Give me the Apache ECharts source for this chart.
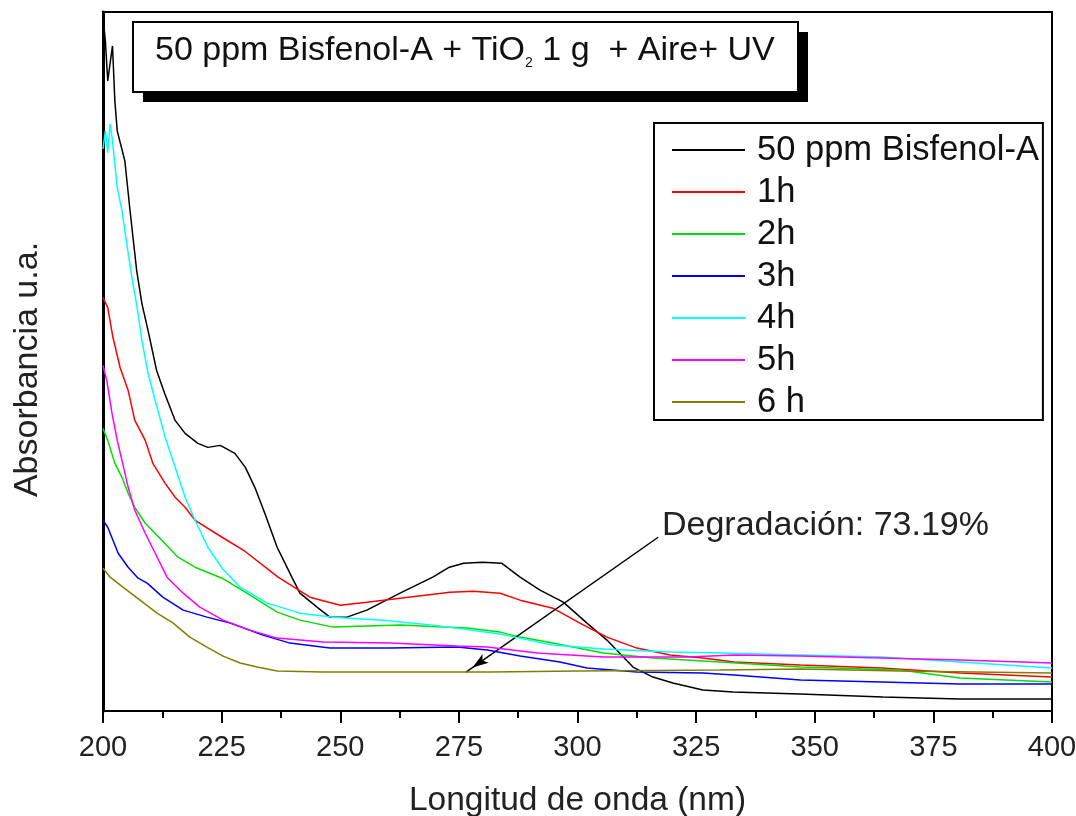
<!DOCTYPE html>
<html>
<head>
<meta charset="utf-8">
<script src="https://cdn.jsdelivr.net/npm/echarts@6/dist/echarts.min.js"></script>
<style>
  html, body { margin: 0; padding: 0; background: #fff; }
  #chart { width: 1076px; height: 816px; }
</style>
</head>
<body>
<div id="chart"></div>
<script>
// UV-Vis spectra of Bisphenol-A during TiO2 photocatalysis, [wavelength nm, absorbance a.u.]
const xTicks = [200, 225, 250, 275, 300, 325, 350, 375, 400];
const seriesNames = ['50 ppm Bisfenol-A', '1h', '2h', '3h', '4h', '5h', '6 h'];
const seriesColors = ['#000000', '#ff0000', '#00e000', '#0000ff', '#00ffff', '#ff00ff', '#808000'];

const bisfenolA = [
  [200, 3.48], [200.5, 3.355], [201, 3.155], [202, 3.33], [202.5, 3.055], [203, 2.905],
  [204.6, 2.755], [205.7, 2.505], [207.1, 2.205], [208.2, 2.04], [209.5, 1.905], [211.3, 1.705],
  [213, 1.59], [215.2, 1.455], [217.3, 1.39], [220, 1.34], [222.1, 1.32], [224.7, 1.33],
  [227.8, 1.29], [230, 1.22], [232, 1.12], [234.1, 0.99], [236.7, 0.82], [239.8, 0.67],
  [241.5, 0.59], [245.1, 0.52], [247.8, 0.47], [251.4, 0.47], [255.6, 0.505], [262.6, 0.59],
  [269.5, 0.67], [273, 0.72], [276, 0.74], [280, 0.745], [284, 0.74], [287.9, 0.67],
  [292.1, 0.605], [297, 0.545], [302, 0.44], [306.2, 0.355], [311.7, 0.22], [315.9, 0.17],
  [320.1, 0.14], [326.4, 0.105], [332.8, 0.095], [346.9, 0.085], [364.4, 0.07], [380.6, 0.06],
  [400, 0.06]
];
const h1 = [
  [200, 2.07], [201, 2.02], [202.1, 1.87], [203.6, 1.72], [205.3, 1.605], [206.7, 1.455],
  [208.9, 1.355], [210.5, 1.24], [213.1, 1.14], [215.2, 1.07], [217.3, 1.02], [219.4, 0.955],
  [225.1, 0.87], [229.9, 0.8], [236.9, 0.67], [243.6, 0.57], [250, 0.53], [255.6, 0.545],
  [262.6, 0.565], [273.1, 0.595], [278, 0.6], [283.7, 0.59], [287.9, 0.555], [294.8, 0.515],
  [300.5, 0.44], [306.2, 0.37], [312.5, 0.315], [319.5, 0.28], [326.4, 0.265], [333, 0.245],
  [347, 0.23], [364, 0.215], [380.6, 0.19], [400, 0.17]
];
const h2 = [
  [200, 1.415], [201, 1.355], [202.5, 1.24], [204, 1.17], [205.3, 1.09], [206.7, 1.02],
  [208.9, 0.94], [212.4, 0.855], [215.8, 0.77], [219.4, 0.72], [225.1, 0.665], [231, 0.58],
  [236.7, 0.495], [241.5, 0.455], [248.5, 0.42], [262.6, 0.43], [276.7, 0.415], [283.7, 0.395],
  [287.9, 0.37], [294.8, 0.34], [305.4, 0.29], [315.9, 0.265], [330, 0.245], [347, 0.22],
  [368, 0.205], [380.6, 0.165], [400, 0.145]
];
const h3 = [
  [200, 0.955], [201, 0.92], [203.2, 0.79], [205.3, 0.72], [207.4, 0.665], [209.3, 0.64],
  [212.6, 0.57], [216.9, 0.505], [221.9, 0.47], [226.8, 0.44], [233.7, 0.38], [239.4, 0.34],
  [247.8, 0.315], [260.5, 0.315], [274.6, 0.32], [281, 0.305], [287.9, 0.275], [296.3, 0.245],
  [302, 0.215], [312.5, 0.195], [326.4, 0.19], [333, 0.18], [347, 0.155], [364, 0.145],
  [380.6, 0.135], [400, 0.135]
];
const h4 = [
  [200, 2.815], [200.5, 2.905], [201, 2.795], [201.5, 2.94], [202, 2.855], [203, 2.62],
  [204, 2.505], [205, 2.34], [206.1, 2.17], [207.2, 2.02], [208.2, 1.855], [209.5, 1.69],
  [211, 1.555], [213.1, 1.37], [215.2, 1.22], [217.3, 1.07], [219.4, 0.955], [222.1, 0.82],
  [225.1, 0.715], [228.9, 0.62], [234.6, 0.54], [241.5, 0.49], [248.5, 0.47], [259, 0.455],
  [269.5, 0.43], [283.7, 0.385], [294.8, 0.33], [305.4, 0.31], [319.5, 0.295], [330, 0.29],
  [347, 0.28], [364, 0.27], [380.6, 0.245], [400, 0.215]
];
const h5 = [
  [200, 1.73], [200.8, 1.655], [201.9, 1.49], [203, 1.355], [204, 1.255], [205.3, 1.12],
  [206.7, 1.005], [208.9, 0.89], [211, 0.79], [213.5, 0.67], [216.9, 0.59], [220.4, 0.52],
  [225.3, 0.455], [231, 0.405], [236.7, 0.365], [246.4, 0.345], [260.5, 0.34], [274.6, 0.325],
  [281, 0.32], [291.5, 0.29], [305.4, 0.27], [323, 0.27], [333, 0.28], [347, 0.275],
  [364, 0.265], [380.6, 0.255], [400, 0.24]
];
const h6 = [
  [200, 0.715], [201.5, 0.67], [204.2, 0.62], [207.8, 0.555], [211.4, 0.49], [214.8, 0.44],
  [218.3, 0.37], [221.9, 0.32], [225.3, 0.275], [228.9, 0.24], [232.5, 0.22], [236.7, 0.2],
  [246.4, 0.195], [281.6, 0.195], [300, 0.2], [330, 0.205], [347, 0.21], [368, 0.2], [400, 0.19]
];
const seriesData = [bisfenolA, h1, h2, h3, h4, h5, h6];

// Annotation: arrow from the label down to the 6 h curve
const arrowStart = [317, 0.87];
const arrowEnd = [276.5, 0.195];
const annotationText = 'Degradación: 73.19%';

const FONT = "'Liberation Sans', Arial, sans-serif";

const chart = echarts.init(document.getElementById('chart'), null, { renderer: 'canvas' });

const series = seriesNames.map((name, i) => ({
  name: name,
  type: 'line',
  data: seriesData[i],
  symbol: 'none',
  smooth: false,
  lineStyle: { color: seriesColors[i], width: 1.5 },
  itemStyle: { color: seriesColors[i] },
  z: 2 + i
}));

const option = {
  animation: false,
  backgroundColor: '#fff',
  grid: {
    left: 103, right: 24, top: 12, bottom: 105,
    outerBoundsMode: 'none',
    containLabel: false,
    show: true, borderColor: '#000', borderWidth: 2, backgroundColor: 'transparent'
  },
  xAxis: {
    type: 'value',
    min: xTicks[0], max: xTicks[xTicks.length - 1], interval: 25,
    name: 'Longitud de onda (nm)',
    nameLocation: 'middle', nameGap: 73,
    nameTextStyle: { fontFamily: FONT, fontSize: 33.5, color: '#222' },
    axisLine: { show: true, lineStyle: { color: '#000', width: 2 } },
    axisTick: { show: true, inside: false, length: 12, lineStyle: { color: '#000', width: 2 } },
    minorTick: { show: true, splitNumber: 2, length: 7, lineStyle: { color: '#000', width: 2 } },
    axisLabel: { fontFamily: FONT, fontSize: 29, color: '#222', margin: 22 },
    splitLine: { show: false }
  },
  yAxis: {
    type: 'value',
    min: 0, max: 3.5,
    name: 'Absorbancia u.a.',
    nameLocation: 'middle', nameGap: 58, nameRotate: 90,
    nameTextStyle: { fontFamily: FONT, fontSize: 34, color: '#222', padding: [0, 16, 0, 0] },
    axisLine: { show: true, lineStyle: { color: '#000', width: 3 } },
    axisTick: { show: false },
    axisLabel: { show: false },
    splitLine: { show: false }
  },
  legend: {
    orient: 'vertical',
    left: 654, top: 123,
    data: seriesNames,
    icon: 'rect',
    itemWidth: 73, itemHeight: 2, itemGap: 6,
    padding: [9, 4, 0, 18],
    borderColor: '#000', borderWidth: 2,
    backgroundColor: '#fff',
    textStyle: { fontFamily: FONT, fontSize: 34.5, color: '#111', lineHeight: 36, padding: [0, 0, 0, 7] },
    selectedMode: false
  },
  series: series,
  graphic: [
    { type: 'rect', shape: { x: 143, y: 32, width: 665, height: 70 }, style: { fill: '#000' }, z: 100 },
    { type: 'rect', shape: { x: 133, y: 22, width: 665, height: 70 }, style: { fill: '#fff', stroke: '#000', lineWidth: 2 }, z: 101 },
    {
      type: 'text', left: 155, top: 34, z: 102,
      style: {
        text: '50 ppm Bisfenol-A + TiO{sub|2} 1 g  + Aire+ UV',
        font: '34px ' + FONT, fill: '#111',
        rich: { sub: { fontSize: 14, fontFamily: FONT, fill: '#111', padding: [24, 0, 0, 0] } }
      }
    },
    {
      type: 'text', left: 662, top: 509, z: 102,
      style: { text: annotationText, font: '34px ' + FONT, fill: '#222' }
    }
  ]
};
chart.setOption(option);

// Arrow: line from the label to the 6 h curve plus an arrowhead oriented along it
const p0 = chart.convertToPixel({ gridIndex: 0 }, arrowStart);
const p1 = chart.convertToPixel({ gridIndex: 0 }, arrowEnd);
const dx = p1[0] - p0[0], dy = p1[1] - p0[1];
const len = Math.sqrt(dx * dx + dy * dy);
const ux = dx / len, uy = dy / len;
const headLen = 16;
const headCenter = chart.convertFromPixel({ gridIndex: 0 }, [p1[0] - ux * headLen / 2, p1[1] - uy * headLen / 2]);
// ECharts 'arrow' points up; rotate (counter-clockwise, degrees) to follow the line
const rot = Math.atan2(-dy, dx) * 180 / Math.PI - 90;

const arrowSeries = {
  name: 'arrow',
  type: 'line',
  data: [],
  symbol: 'none',
  silent: true,
  z: 20,
  markLine: {
    silent: true,
    symbol: ['none', 'none'],
    label: { show: false },
    lineStyle: { color: '#000', width: 1.5, type: 'solid' },
    data: [[{ coord: arrowStart }, { coord: arrowEnd }]]
  },
  markPoint: {
    silent: true,
    symbol: 'arrow',
    symbolSize: [8, headLen],
    symbolRotate: rot,
    label: { show: false },
    itemStyle: { color: '#000' },
    data: [{ coord: headCenter }]
  }
};

chart.setOption({ series: series.concat([arrowSeries]) });
</script>
</body>
</html>
